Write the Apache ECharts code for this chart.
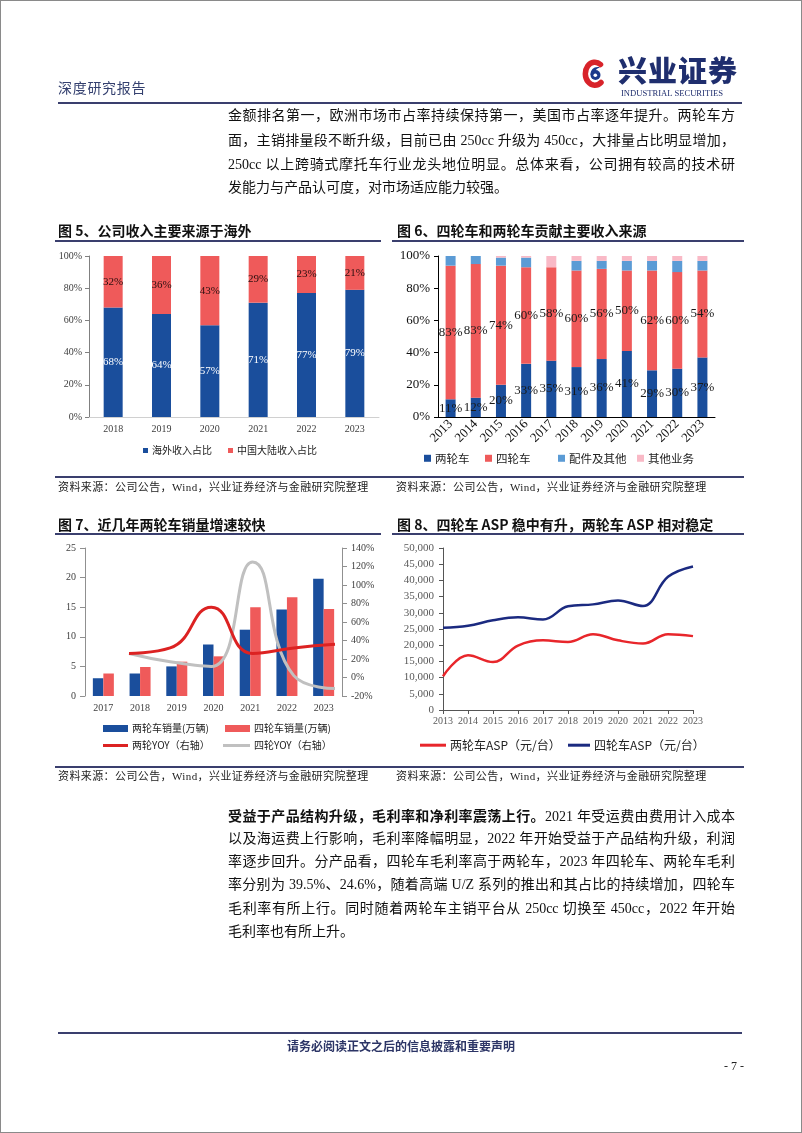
<!DOCTYPE html>
<html><head><meta charset="utf-8">
<script src="https://cdn.jsdelivr.net/npm/echarts@6/dist/echarts.min.js"></script>
<style>
html,body{margin:0;padding:0;background:#fff;}
#page{position:relative;width:802px;height:1133px;overflow:hidden;font-family:'Liberation Serif','Noto Sans CJK SC',serif;color:#111;}
#frame{position:absolute;left:0;top:0;width:802px;height:1133px;box-sizing:border-box;border:1px solid #8a8a8a;pointer-events:none;z-index:5}
#chart{position:absolute;left:0;top:0;width:802px;height:1133px;}
.t{position:absolute;white-space:nowrap;}
.hl{position:absolute;height:2px;background:#3a3f6e;}
.pl{position:absolute;left:228px;width:507px;font-size:14px;line-height:18px;height:18px;text-align:justify;text-align-last:justify;}
.pl.last{text-align-last:left;}
.ttl{position:absolute;font-family:'Noto Sans CJK SC',sans-serif;font-weight:bold;font-size:14px;line-height:18px;color:#111;white-space:nowrap;}
.src{position:absolute;font-size:11px;line-height:14px;color:#222;white-space:nowrap;letter-spacing:0.4px;}
</style></head>
<body>
<div id="page">
<div id="chart"></div>
<div id="frame"></div>

<div class="t" style="left:58px;top:78px;font-family:'Noto Sans CJK SC';font-size:14px;line-height:18px;color:#34406f;letter-spacing:0.7px;">深度研究报告</div>
<svg style="position:absolute;left:581px;top:59px;" width="26" height="29" viewBox="0 0 26 29">
  <path d="M19.5 5.5 A9.5 11.5 0 1 0 20 23.5" fill="none" stroke="#d8232a" stroke-width="5.5" stroke-linecap="round"/>
  <circle cx="14.5" cy="16" r="5" fill="#1c3a8c"/>
  <path d="M9.5 16 C9.5 10 14 7 19 8.5 C15 9.5 13.5 12 14.5 16 Z" fill="#1c3a8c"/>
  <circle cx="14.3" cy="16.2" r="1.8" fill="#fff"/>
</svg>
<div class="t" style="left:618px;top:52px;font-family:'Noto Sans CJK SC';font-weight:900;font-size:29px;line-height:34px;color:#1f2e6e;letter-spacing:1px;">兴业证券</div>
<div class="t" style="left:621px;top:88px;font-family:'Liberation Serif';font-size:8.6px;line-height:10px;color:#1f2e6e;">INDUSTRIAL SECURITIES</div>
<div class="hl" style="left:58px;top:102px;width:684px;"></div>

<div class="pl" style="top:107px;">金额排名第一，欧洲市场市占率持续保持第一，美国市占率逐年提升。两轮车方</div>
<div class="pl" style="top:132px;">面，主销排量段不断升级，目前已由 250cc 升级为 450cc，大排量占比明显增加，</div>
<div class="pl" style="top:156px;">250cc 以上跨骑式摩托车行业龙头地位明显。总体来看，公司拥有较高的技术研</div>
<div class="pl last" style="top:179px;">发能力与产品认可度，对市场适应能力较强。</div>

<div class="ttl" style="left:58px;top:221px;">图 5、公司收入主要来源于海外</div>
<div class="ttl" style="left:397px;top:221px;">图 6、四轮车和两轮车贡献主要收入来源</div>
<div class="hl" style="left:55px;top:240px;width:326px;"></div>
<div class="hl" style="left:392px;top:240px;width:352px;"></div>

<div class="hl" style="left:55px;top:476px;width:689px;"></div>
<div class="src" style="left:58px;top:480px;">资料来源：公司公告，Wind，兴业证券经济与金融研究院整理</div>
<div class="src" style="left:396px;top:480px;">资料来源：公司公告，Wind，兴业证券经济与金融研究院整理</div>

<div class="ttl" style="left:58px;top:515px;">图 7、近几年两轮车销量增速较快</div>
<div class="ttl" style="left:397px;top:515px;">图 8、四轮车 ASP 稳中有升，两轮车 ASP 相对稳定</div>
<div class="hl" style="left:55px;top:533px;width:326px;"></div>
<div class="hl" style="left:392px;top:533px;width:352px;"></div>

<div class="hl" style="left:55px;top:766px;width:689px;"></div>
<div class="src" style="left:58px;top:769px;">资料来源：公司公告，Wind，兴业证券经济与金融研究院整理</div>
<div class="src" style="left:396px;top:769px;">资料来源：公司公告，Wind，兴业证券经济与金融研究院整理</div>

<div class="pl" style="top:806px;"><b style="font-family:'Noto Sans CJK SC';">受益于产品结构升级，毛利率和净利率震荡上行。</b>2021 年受运费由费用计入成本</div>
<div class="pl" style="top:830px;">以及海运费上行影响，毛利率降幅明显，2022 年开始受益于产品结构升级，利润</div>
<div class="pl" style="top:853px;">率逐步回升。分产品看，四轮车毛利率高于两轮车，2023 年四轮车、两轮车毛利</div>
<div class="pl" style="top:876px;">率分别为 39.5%、24.6%，随着高端 U/Z 系列的推出和其占比的持续增加，四轮车</div>
<div class="pl" style="top:900px;">毛利率有所上行。同时随着两轮车主销平台从 250cc 切换至 450cc，2022 年开始</div>
<div class="pl last" style="top:923px;">毛利率也有所上升。</div>

<div class="hl" style="left:58px;top:1032px;width:684px;"></div>
<div class="t" style="left:0;width:802px;text-align:center;top:1038px;font-family:'Noto Sans CJK SC';font-weight:bold;font-size:12px;line-height:16px;color:#2c3566;">请务必阅读正文之后的信息披露和重要声明</div>
<div class="t" style="left:724px;top:1059px;font-size:12px;line-height:14px;color:#222;">- 7 -</div>
</div>

<script>
// ---- data ----
const years5 = ['2018','2019','2020','2021','2022','2023'];
const overseas5 = [68,64,57,71,77,79];
const domestic5 = [32,36,43,29,23,21];

const years6 = ['2013','2014','2015','2016','2017','2018','2019','2020','2021','2022','2023'];
const twoWheel6 = [11,12,20,33,35,31,36,41,29,30,37];
const fourWheel6 = [83,83,74,60,58,60,56,50,62,60,54];
const parts6 = [6,5,5,6,0,6,5,6,6,7,6];
const other6 = [0,0,1,1,7,3,3,3,3,3,3];

const years7 = ['2017','2018','2019','2020','2021','2022','2023'];
const twoSales7 = [3.0,3.8,5.0,8.7,11.2,14.6,19.8];
const fourSales7 = [3.8,4.9,5.8,6.7,15.0,16.7,14.7];
const yoyYears7 = ['2018','2019','2020','2021','2022','2023'];
const twoYoy7 = [26,32,76,26,32,36];
const fourYoy7 = [26,17,12,125,2,-12];

const years8 = ['2013','2014','2015','2016','2017','2018','2019','2020','2021','2022','2023'];
const twoAsp8 = [10400,16900,14800,19900,21500,21000,23400,21500,20500,23400,22800];
const fourAsp8 = [25400,26000,27700,28600,27900,32000,32600,33800,32100,41100,44300];

// ---- styles ----
const SERIF = "'Liberation Serif','Noto Sans CJK SC',serif";
const CJK = "'Noto Sans CJK SC','Liberation Serif',sans-serif";
const BLUE = '#1a4e9c', RED = '#ef5a5a', LBLUE = '#5b9bd5', PINK = '#f9b9c6';

function leg(name, left, cy, w, h, fs){
  const lh = Math.max(h, fs*1.3);
  return {data:[{name:name, icon:'rect'}], left:left, top:cy-lh/2, itemWidth:w, itemHeight:h,
    padding:0, itemGap:0, selectedMode:false,
    textStyle:{fontSize:fs, color:'#222', fontFamily:CJK, padding:[0,0,0,-1]}};
}

const chart = echarts.init(document.getElementById('chart'), null, {renderer:'canvas'});
const opt = {
  animation:false,
  backgroundColor:'transparent',
  grid:[
    {left:89, top:256, width:290, height:161},
    {left:438, top:256, width:277, height:161},
    {left:85, top:548, width:257, height:148},
    {left:129, top:548, width:206, height:148},
    {left:443, top:548, width:250, height:162}
  ],
  xAxis:[
    {gridIndex:0, type:'category', data:years5,
      axisLine:{lineStyle:{color:'#d0d0d0'}}, axisTick:{show:false},
      axisLabel:{fontSize:10, color:'#404040', fontFamily:SERIF, margin:7}},
    {gridIndex:1, type:'category', data:years6,
      axisLine:{lineStyle:{color:'#000', width:1}}, axisTick:{show:false},
      axisLabel:{fontSize:13, color:'#111', fontFamily:SERIF, rotate:45, margin:5, interval:0}},
    {gridIndex:2, type:'category', data:years7,
      axisLine:{show:false}, axisTick:{show:false},
      axisLabel:{fontSize:10, color:'#404040', fontFamily:SERIF, margin:7, interval:0}},
    {gridIndex:3, type:'category', data:yoyYears7, boundaryGap:false, show:false},
    {gridIndex:4, type:'category', data:years8, boundaryGap:false,
      axisLine:{lineStyle:{color:'#555'}}, axisTick:{show:true, length:4, interval:0, lineStyle:{color:'#555'}},
      axisLabel:{fontSize:10, color:'#595959', fontFamily:SERIF, margin:6, interval:0}}
  ],
  yAxis:[
    {gridIndex:0, type:'value', min:0, max:100, interval:20,
      axisLine:{show:true, lineStyle:{color:'#808080'}}, axisTick:{show:true, length:4, lineStyle:{color:'#808080'}},
      splitLine:{show:false}, axisLabel:{formatter:'{value}%', fontSize:10, color:'#404040', fontFamily:SERIF, margin:7}},
    {gridIndex:1, type:'value', min:0, max:100, interval:20,
      axisLine:{show:true, lineStyle:{color:'#000'}}, axisTick:{show:true, length:4, lineStyle:{color:'#000'}},
      splitLine:{show:false}, axisLabel:{formatter:'{value}%', fontSize:13, color:'#111', fontFamily:SERIF, margin:8}},
    {gridIndex:2, type:'value', min:0, max:25, interval:5, position:'left',
      axisLine:{show:true, lineStyle:{color:'#909090'}}, axisTick:{show:true, length:5, lineStyle:{color:'#909090'}},
      splitLine:{show:false}, axisLabel:{fontSize:10, color:'#404040', fontFamily:SERIF, margin:9}},
    {gridIndex:2, type:'value', min:-20, max:140, interval:20, position:'right',
      axisLine:{show:true, lineStyle:{color:'#909090'}}, axisTick:{show:true, length:5, lineStyle:{color:'#909090'}},
      splitLine:{show:false}, axisLabel:{formatter:'{value}%', fontSize:10, color:'#404040', fontFamily:SERIF, margin:9}},
    {gridIndex:3, type:'value', min:-20, max:140, interval:20, show:false, splitLine:{show:false}},
    {gridIndex:4, type:'value', min:0, max:50000, interval:5000,
      axisLine:{show:true, lineStyle:{color:'#555'}}, axisTick:{show:true, length:4, lineStyle:{color:'#555'}},
      splitLine:{show:false},
      axisLabel:{fontSize:11, color:'#595959', fontFamily:SERIF, margin:9,
        formatter:v=>v.toLocaleString('en-US')}}
  ],
  legend:[
    leg('海外收入占比',143,452,5,5,10),
    leg('中国大陆收入占比',228,452,5,5,10),
    leg('两轮车',424,460,7,7,11.5),
    leg('四轮车',485,460,7,7,11.5),
    leg('配件及其他',558,460,7,7,11.5),
    leg('其他业务',637,460,7,7,11.5),
    leg('两轮车销量(万辆)',103,730,25,7,10),
    leg('四轮车销量(万辆)',225,730,25,7,10),
    leg('两轮YOY（右轴）',103,747,25,3,10),
    leg('四轮YOY（右轴）',223,747,27,3,10),
    leg('两轮车ASP（元/台）',420,747,26,3,12),
    leg('四轮车ASP（元/台）',568,747,22,3,12)
  ],
  series:[
    {name:'海外收入占比', type:'bar', xAxisIndex:0, yAxisIndex:0, stack:'c5', barWidth:19, data:overseas5,
      itemStyle:{color:BLUE},
      label:{show:true, position:'inside', formatter:'{c}%', color:'#fff', fontSize:11, fontFamily:SERIF}},
    {name:'中国大陆收入占比', type:'bar', xAxisIndex:0, yAxisIndex:0, stack:'c5', barWidth:19, data:domestic5,
      itemStyle:{color:RED},
      label:{show:true, position:'inside', formatter:'{c}%', color:'#2a0f0f', fontSize:11, fontFamily:SERIF}},

    {name:'两轮车', type:'bar', xAxisIndex:1, yAxisIndex:1, stack:'c6', barWidth:10, data:twoWheel6,
      itemStyle:{color:BLUE},
      label:{show:true, position:'inside', formatter:'{c}%', color:'#1a1a1a', fontSize:13, fontFamily:SERIF}},
    {name:'四轮车', type:'bar', xAxisIndex:1, yAxisIndex:1, stack:'c6', barWidth:10, data:fourWheel6,
      itemStyle:{color:RED},
      label:{show:true, position:'inside', formatter:'{c}%', color:'#1a1a1a', fontSize:13, fontFamily:SERIF}},
    {name:'配件及其他', type:'bar', xAxisIndex:1, yAxisIndex:1, stack:'c6', barWidth:10, data:parts6,
      itemStyle:{color:LBLUE}},
    {name:'其他业务', type:'bar', xAxisIndex:1, yAxisIndex:1, stack:'c6', barWidth:10, data:other6,
      itemStyle:{color:PINK}},

    {name:'两轮车销量(万辆)', type:'bar', xAxisIndex:2, yAxisIndex:2, barWidth:10.5, barGap:'0%', data:twoSales7,
      itemStyle:{color:BLUE}},
    {name:'四轮车销量(万辆)', type:'bar', xAxisIndex:2, yAxisIndex:2, barWidth:10.5, barGap:'0%', data:fourSales7,
      itemStyle:{color:RED}},
    {name:'四轮YOY（右轴）', type:'line', xAxisIndex:3, yAxisIndex:4, data:fourYoy7, smooth:0.5, showSymbol:false,
      lineStyle:{color:'#c0c0c0', width:3}, itemStyle:{color:'#c0c0c0'}},
    {name:'两轮YOY（右轴）', type:'line', xAxisIndex:3, yAxisIndex:4, data:twoYoy7, smooth:0.5, showSymbol:false,
      lineStyle:{color:'#dc2222', width:3}, itemStyle:{color:'#dc2222'}},

    {name:'两轮车ASP（元/台）', type:'line', xAxisIndex:4, yAxisIndex:5, data:twoAsp8, smooth:0.4, showSymbol:false,
      lineStyle:{color:'#e8262b', width:2.5}, itemStyle:{color:'#e8262b'}},
    {name:'四轮车ASP（元/台）', type:'line', xAxisIndex:4, yAxisIndex:5, data:fourAsp8, smooth:0.4, showSymbol:false,
      lineStyle:{color:'#1b2a80', width:2.5}, itemStyle:{color:'#1b2a80'}}
  ]
};
chart.setOption(opt);
</script>
</body></html>
